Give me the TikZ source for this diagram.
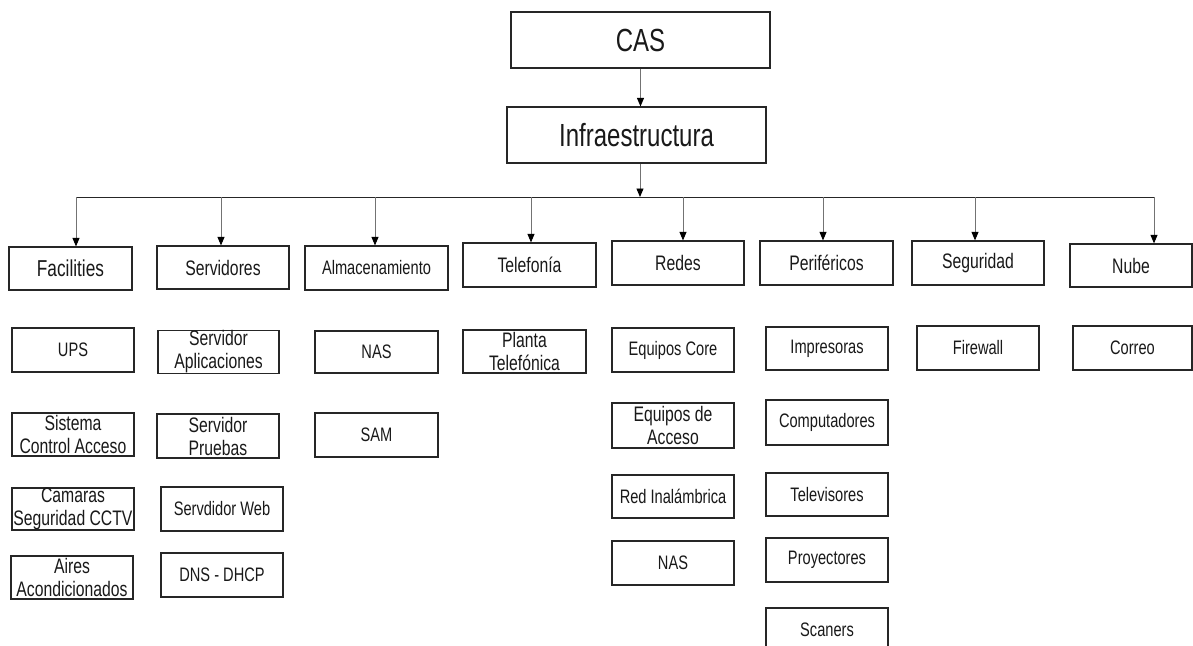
\documentclass[tikz,border=0pt]{standalone}
\usepackage{fontspec}
\setmainfont{Liberation Sans}[FakeStretch=0.75]
\usetikzlibrary{arrows.meta}
\tikzset{
  box/.style={draw=black!85, line width=1.2pt, inner sep=0pt, align=center, text=black!90},
  top/.style={box, font=\fontsize{32}{36}\selectfont},
  cat/.style={box, font=\fontsize{21}{24}\selectfont},
  leaf/.style={box, font=\fontsize{19.5}{23}\selectfont},
  leaftwo/.style={box, font=\fontsize{21}{23}\selectfont},
  arr/.style={draw=black!55, line width=0.9pt, -{Triangle[width=7pt,length=8.5pt,color=black]}},
  bus/.style={draw=black!85, line width=1pt},
}
\begin{document}
\begin{tikzpicture}[x=1pt,y=-1pt]
\clip (0,0) rectangle (1193,645);
\fill[white] (0,0) rectangle (1193,645);

% top
\node[top, minimum width=259pt, minimum height=56pt] (cas) at (640.5,40) {CAS};
\node[top, minimum width=259pt, minimum height=56pt] (infra) at (636.5,135) {Infraestructura};
\draw[arr] (cas.south) -- (cas.south |- infra.north);
\coordinate (hub) at (640,197);
\draw[arr] (hub |- infra.south) -- (hub);

% categories
\node[cat, font=\fontsize{23}{26}\selectfont, minimum width=123pt, minimum height=43pt] (fac) at (70.5,268.5) {Facilities};
\node[cat, minimum width=132pt, minimum height=43pt] (srv) at (223,267.5) {Servidores};
\node[cat, font=\fontsize{19.5}{23}\selectfont, minimum width=143pt, minimum height=44pt] (alm) at (376.5,268) {Almacenamiento};
\node[cat, minimum width=133pt, minimum height=44pt] (tel) at (529.5,265) {Telefonía};
\node[cat, minimum width=132pt, minimum height=44pt] (red) at (678,263) {Redes};
\node[cat, minimum width=133pt, minimum height=44pt] (per) at (826.5,263) {Periféricos};
\node[cat, minimum width=132pt, minimum height=44pt] (seg) at (978,263) {Seguridad};
\node[cat, minimum width=122pt, minimum height=43pt] (nub) at (1131,265.5) {Nube};

% bus
\coordinate (b1) at (76,197);
\coordinate (b2) at (221,197);
\coordinate (b3) at (375,197);
\coordinate (b4) at (531,197);
\coordinate (b5) at (683,197);
\coordinate (b6) at (823,197);
\coordinate (b7) at (975,197);
\coordinate (b8) at (1154,197);
\draw[bus] (b1) -- (b8);
\draw[arr] (b1) -- (b1 |- fac.north);
\draw[arr] (b2) -- (b2 |- srv.north);
\draw[arr] (b3) -- (b3 |- alm.north);
\draw[arr] (b4) -- (b4 |- tel.north);
\draw[arr] (b5) -- (b5 |- red.north);
\draw[arr] (b6) -- (b6 |- per.north);
\draw[arr] (b7) -- (b7 |- seg.north);
\draw[arr] (b8) -- (b8 |- nub.north);

% Facilities children
\node[leaf, minimum width=122pt, minimum height=44pt] (ups) at (73,350) {UPS};
\node[leaftwo, minimum width=122pt, minimum height=43pt] (sca) at (73,434.5) {Sistema\\Control Acceso};
\node[leaftwo, minimum width=122pt, minimum height=42pt] (cam) at (73,509) {Camaras\\Seguridad CCTV};
\node[leaftwo, minimum width=122pt, minimum height=43pt] (air) at (72,577.5) {Aires\\Acondicionados};

% Servidores children
\node[leaftwo, minimum width=121pt, minimum height=42pt] (sap) at (218.5,352) {Servidor\\Aplicaciones};
\node[leaftwo, minimum width=122pt, minimum height=44pt] (spr) at (218,436) {Servidor\\Pruebas};
\node[leaf, minimum width=122pt, minimum height=44pt] (swb) at (222,509) {Servdidor Web};
\node[leaf, minimum width=122pt, minimum height=44pt] (dns) at (222,575) {DNS - DHCP};

% Almacenamiento children
\node[leaf, minimum width=123pt, minimum height=42pt] (nas1) at (376.5,352) {NAS};
\node[leaf, minimum width=123pt, minimum height=44pt] (sam) at (376.5,435) {SAM};

% Telefonia children
\node[leaftwo, minimum width=123pt, minimum height=43pt] (pla) at (524.5,351.5) {Planta\\Telefónica};

% Redes children
\node[leaf, minimum width=122pt, minimum height=44pt] (ecore) at (673,350) {Equipos Core};
\node[leaftwo, minimum width=122pt, minimum height=45pt] (eacc) at (673,425.5) {Equipos de\\Acceso};
\node[leaf, minimum width=122pt, minimum height=43pt] (rin) at (673,496.5) {Red Inalámbrica};
\node[leaf, minimum width=122pt, minimum height=44pt] (nas2) at (673,563) {NAS};

% Perifericos children
\node[leaf, minimum width=122pt, minimum height=43pt] (imp) at (827,348.5) {Impresoras};
\node[leaf, minimum width=122pt, minimum height=45pt] (com) at (827,422.5) {Computadores};
\node[leaf, minimum width=122pt, minimum height=43pt] (tv) at (827,494.5) {Televisores};
\node[leaf, minimum width=122pt, minimum height=44pt] (pro) at (827,560) {Proyectores};
\node[leaf, minimum width=122pt, minimum height=43pt] (scn) at (827,629.5) {Scaners};

% Seguridad / Nube children
\node[leaf, minimum width=122pt, minimum height=44pt] (fw) at (978,348) {Firewall};
\node[leaf, minimum width=119pt, minimum height=44pt] (cor) at (1132.5,348) {Correo};
\end{tikzpicture}
\end{document}
